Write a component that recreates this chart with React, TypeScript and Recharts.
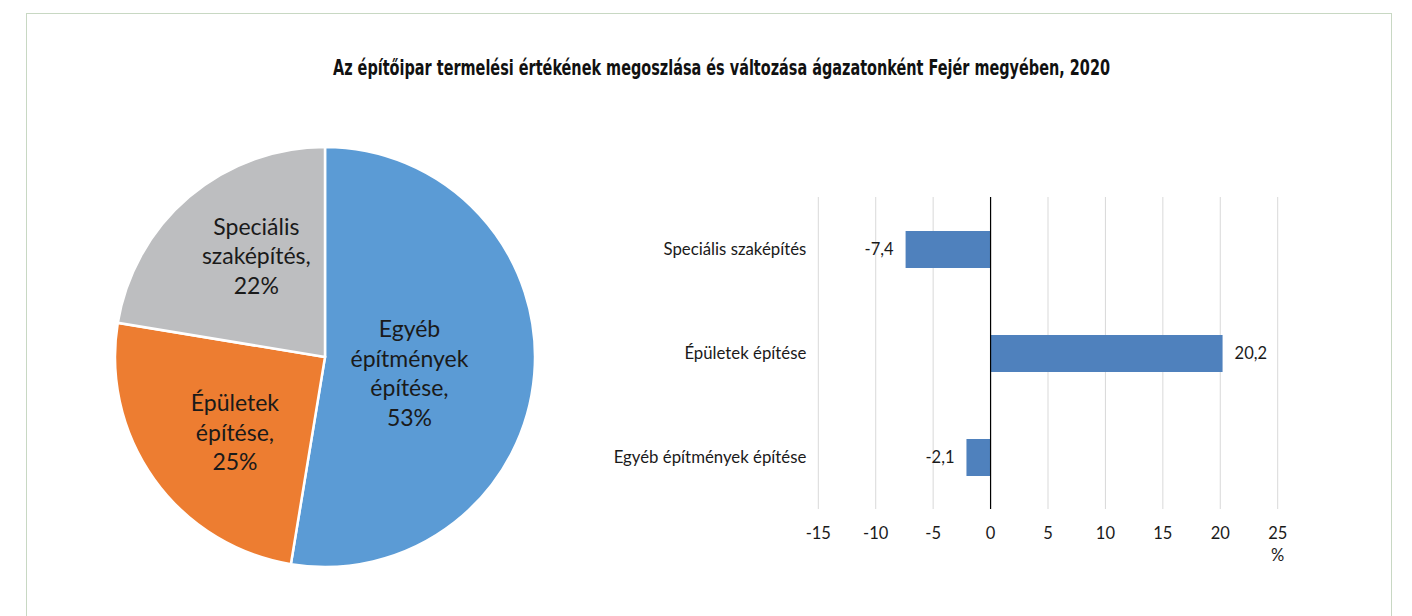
import React from 'react';
import { PieChart, Pie, Cell, BarChart, Bar, XAxis, YAxis, CartesianGrid, ReferenceLine, LabelList, Label } from 'recharts';

const titleText = 'Az építőipar termelési értékének megoszlása és változása ágazatonként Fejér megyében, 2020';

const pieNames = ['Egyéb építmények építése', 'Épületek építése', 'Speciális szaképítés'];
const pieShares = [52.6, 25.0, 22.4];
const pieColors = ['#5b9bd5', '#ed7d31', '#bdbec0'];

const barCategories = ['Speciális szaképítés', 'Épületek építése', 'Egyéb építmények építése'];
const barChanges = [-7.4, 20.2, -2.1];
const xTicks = [-15, -10, -5, 0, 5, 10, 15, 20, 25];

const pieData = pieNames.map((name, i) => ({ name, value: pieShares[i] }));
const barData = barCategories.map((name, i) => ({ name, value: barChanges[i] }));

const labelRadiusFrac = [0.41, 0.56, 0.58];
const labelAngleShift = [-6.5, 4.4, -6];
const FONT = 'Lato, "Open Sans", sans-serif';
const RAD = Math.PI / 180;

const renderPieLabel = (props: any) => {
  const { cx, cy, midAngle, outerRadius, index, name, value } = props;
  const r = outerRadius * labelRadiusFrac[index];
  const a = (midAngle + labelAngleShift[index]) * RAD;
  const x = cx + r * Math.cos(a);
  const y = cy - r * Math.sin(a);
  const words = String(name).split(' ');
  const lines = words.map((w, i) => (i === words.length - 1 ? w + ',' : w));
  lines.push(Math.round(value) + '%');
  const lh = 29.5;
  const y0 = y - ((lines.length - 1) * lh) / 2;
  return (
    <text key={'pl' + index} x={x} y={y0} textAnchor="middle" fontFamily={FONT} fontSize={23} fill="#1a1a1a">
      {lines.map((l, i) => (
        <tspan key={i} x={x} y={y0 + i * lh} dy="0.35em">{l}</tspan>
      ))}
    </text>
  );
};

const fmt = (v: number) => String(v).replace('.', ',');

const renderBarLabel = (props: any) => {
  const { x, y, width, height, value } = props;
  const left = Math.min(x, x + width);
  const right = Math.max(x, x + width);
  const neg = value < 0;
  return (
    <text
      x={neg ? left - 12 : right + 12}
      y={y + height / 2}
      dy="0.35em"
      textAnchor={neg ? 'end' : 'start'}
      fontFamily={FONT}
      fontSize={16.5}
      fill="#1a1a1a"
    >
      {fmt(value)}
    </text>
  );
};

export default function App() {
  return (
    <div style={{ position: 'absolute', left: 0, top: 0, width: 1412, height: 616, background: '#fff', overflow: 'hidden' }}>
      <div style={{ position: 'absolute', left: 26, top: 13, width: 1366, height: 700, border: '1.5px solid #c8d8c3', boxSizing: 'border-box' }} />
      <svg style={{ position: 'absolute', left: 0, top: 0 }} width={1412} height={100}>
        <text
          x={333}
          y={75}
          textLength={777}
          lengthAdjust="spacingAndGlyphs"
          fontFamily='"DejaVu Sans Condensed", "DejaVu Sans", sans-serif'
          fontStretch="condensed"
          fontWeight="bold"
          fontSize={21}
          fill="#111"
        >
          {titleText}
        </text>
      </svg>
      <div style={{ position: 'absolute', left: 75, top: 117 }}>
        <PieChart width={500} height={480}>
          <Pie
            data={pieData}
            dataKey="value"
            nameKey="name"
            cx={245}
            cy={235}
            outerRadius={210}
            startAngle={90}
            endAngle={-270}
            stroke="#fff"
            strokeWidth={2.5}
            labelLine={false}
            label={renderPieLabel}
            isAnimationActive={false}
          >
            {pieData.map((d, i) => (
              <Cell key={d.name} fill={pieColors[i]} />
            ))}
          </Pie>
        </PieChart>
      </div>
      <div style={{ position: 'absolute', left: 600, top: 180 }}>
        <BarChart
          width={700}
          height={400}
          data={barData}
          layout="vertical"
          margin={{ top: 17, right: 22.3, bottom: 41, left: 0 }}
          barCategoryGap={0}
        >
          <CartesianGrid horizontal={false} stroke="#d9d9d9" strokeWidth={1} />
          <XAxis
            type="number"
            domain={[-15, 25]}
            ticks={xTicks}
            interval={0}
            axisLine={false}
            tickLine={false}
            tickMargin={12}
            height={30}
            tick={{ fill: '#1a1a1a', fontSize: 16.5, fontFamily: FONT }}
          >
            <Label
              content={(p: any) => {
                const vb = p.viewBox || {};
                return (
                  <text x={vb.x + vb.width} y={vb.y + 52} textAnchor="middle" fontFamily={FONT} fontSize={16.5} fill="#1a1a1a">
                    %
                  </text>
                );
              }}
            />
          </XAxis>
          <YAxis
            type="category"
            dataKey="name"
            width={218.3}
            axisLine={false}
            tickLine={false}
            tickMargin={6}
            tick={{ fill: '#1a1a1a', fontSize: 16.8, fontFamily: FONT }}
          />
          <ReferenceLine x={0} stroke="#000" strokeWidth={1.2} />
          <Bar dataKey="value" fill="#4f81bd" barSize={37} isAnimationActive={false}>
            <LabelList dataKey="value" content={renderBarLabel} />
          </Bar>
        </BarChart>
      </div>
    </div>
  );
}
